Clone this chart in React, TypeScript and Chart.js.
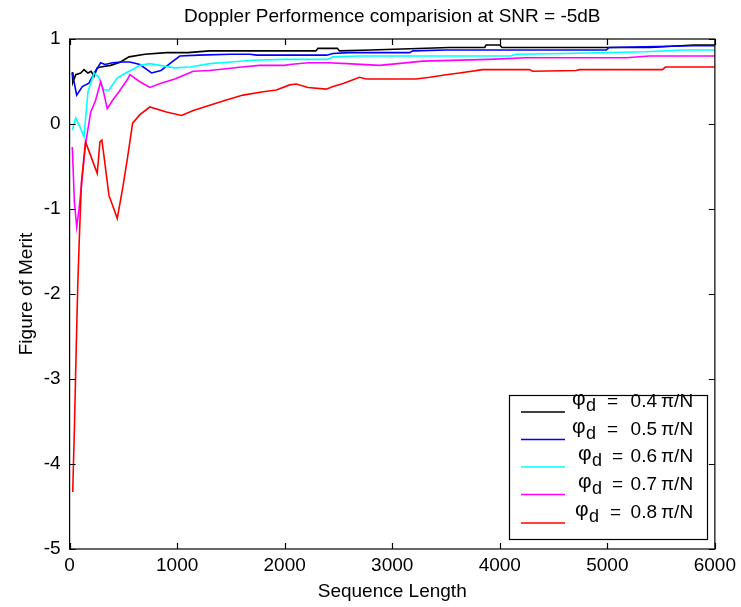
import React, { useEffect, useRef } from "react";
import { Chart, registerables } from "chart.js";

Chart.register(...registerables);

const FONT = '"Liberation Sans Narrow", "Arial Narrow", "Liberation Sans", Arial, sans-serif';

const titleText = "Doppler Performence comparision at SNR = -5dB";
const xLabel = "Sequence Length";
const yLabel = "Figure of Merit";

const xTicks = [0, 1000, 2000, 3000, 4000, 5000, 6000];
const yTicks = [-5, -4, -3, -2, -1, 0, 1];

const legendValues = ["0.4", "0.5", "0.6", "0.7", "0.8"];
const seriesColors = ["#000000", "#0000ff", "#00ffff", "#ff00ff", "#ff0000"];

const blackX = [25, 30, 57, 103, 134, 171, 200, 227, 257, 289, 382, 474, 552, 700, 900, 1100, 1300, 1675, 2290, 2309, 2490, 2509, 2800, 3532, 3860, 3873, 4000, 4020, 5400, 5800, 6000];
const blackY = [0.61, 0.49, 0.58, 0.60, 0.64, 0.60, 0.62, 0.56, 0.66, 0.67, 0.69, 0.73, 0.79, 0.82, 0.84, 0.84, 0.86, 0.86, 0.86, 0.89, 0.89, 0.86, 0.87, 0.90, 0.90, 0.93, 0.93, 0.90, 0.90, 0.93, 0.93];

const blueX = [25, 66, 118, 180, 230, 289, 329, 400, 484, 560, 654, 762, 850, 932, 1025, 1200, 1500, 1675, 1740, 2000, 2390, 2448, 2600, 3160, 3192, 3500, 4150, 4500, 4990, 5017, 5800, 6000];
const blueY = [0.60, 0.34, 0.44, 0.48, 0.60, 0.72, 0.70, 0.72, 0.73, 0.73, 0.70, 0.60, 0.63, 0.71, 0.80, 0.81, 0.82, 0.82, 0.81, 0.81, 0.81, 0.83, 0.84, 0.84, 0.86, 0.87, 0.87, 0.87, 0.87, 0.90, 0.92, 0.92];

const cyanX = [25, 57, 95, 134, 171, 227, 270, 319, 366, 443, 521, 598, 654, 746, 839, 978, 1118, 1303, 1500, 1700, 2000, 2232, 2400, 2448, 2700, 4100, 4151, 4600, 5358, 5700, 6000];
const cyanY = [-0.07, 0.07, -0.03, -0.15, 0.38, 0.60, 0.55, 0.40, 0.40, 0.54, 0.60, 0.65, 0.69, 0.71, 0.69, 0.66, 0.67, 0.71, 0.73, 0.75, 0.76, 0.76, 0.76, 0.79, 0.80, 0.80, 0.82, 0.83, 0.85, 0.87, 0.87];

const magentaX = [25, 45, 66, 87, 109, 134, 149, 196, 242, 289, 315, 350, 400, 459, 536, 561, 650, 746, 850, 979, 1149, 1300, 1455, 1600, 1768, 2000, 2046, 2216, 2400, 2580, 2882, 3050, 3284, 3900, 4240, 5175, 5389, 6000];
const magentaY = [-0.27, -0.93, -1.21, -1.01, -0.74, -0.42, -0.23, 0.14, 0.28, 0.50, 0.38, 0.18, 0.28, 0.38, 0.52, 0.58, 0.50, 0.43, 0.48, 0.53, 0.62, 0.63, 0.65, 0.67, 0.69, 0.69, 0.70, 0.72, 0.72, 0.71, 0.69, 0.71, 0.74, 0.76, 0.78, 0.78, 0.80, 0.80];

const redX = [29, 45, 60, 75, 90, 110, 128, 148, 257, 282, 300, 320, 366, 443, 490, 536, 586, 654, 746, 900, 1041, 1150, 1303, 1450, 1613, 1800, 1923, 2046, 2108, 2216, 2386, 2450, 2550, 2696, 2758, 3000, 3223, 3350, 3500, 3625, 3842, 4000, 4275, 4306, 4708, 4740, 5512, 5540, 6000];
const redY = [-4.33, -3.57, -2.72, -1.94, -1.36, -0.69, -0.46, -0.21, -0.58, -0.21, -0.19, -0.38, -0.84, -1.11, -0.78, -0.42, 0.01, 0.11, 0.20, 0.14, 0.10, 0.16, 0.22, 0.28, 0.34, 0.38, 0.40, 0.46, 0.47, 0.43, 0.41, 0.44, 0.48, 0.55, 0.53, 0.53, 0.53, 0.55, 0.58, 0.60, 0.64, 0.64, 0.64, 0.62, 0.63, 0.64, 0.64, 0.67, 0.67];

const seriesX = [blackX, blueX, cyanX, magentaX, redX];
const seriesY = [blackY, blueY, cyanY, magentaY, redY];

const decorPlugin = {
  id: "matlabDecor",
  afterDraw(chart: any) {
    const ctx = chart.ctx;
    const a = chart.chartArea;
    const xs = chart.scales.x;
    const ys = chart.scales.y;
    ctx.save();
    ctx.strokeStyle = "#000";
    ctx.lineWidth = 1.2;
    ctx.strokeRect(a.left, a.top, a.right - a.left, a.bottom - a.top);
    const tl = 6;
    ctx.beginPath();
    for (const v of xTicks) {
      const px = Math.round(xs.getPixelForValue(v)) + 0.5;
      ctx.moveTo(px, a.bottom);
      ctx.lineTo(px, a.bottom - tl);
      ctx.moveTo(px, a.top);
      ctx.lineTo(px, a.top + tl);
    }
    for (const v of yTicks) {
      const py = Math.round(ys.getPixelForValue(v)) + 0.5;
      ctx.moveTo(a.left, py);
      ctx.lineTo(a.left + tl, py);
      ctx.moveTo(a.right, py);
      ctx.lineTo(a.right - tl, py);
    }
    ctx.stroke();

    ctx.fillStyle = "#000";
    ctx.font = `19px ${FONT}`;
    ctx.textAlign = "center";
    ctx.textBaseline = "alphabetic";
    ctx.fillText(titleText, (a.left + a.right) / 2, 22);
    ctx.fillText(xLabel, (a.left + a.right) / 2, 597);
    ctx.save();
    ctx.translate(32, (a.top + a.bottom) / 2);
    ctx.rotate(-Math.PI / 2);
    ctx.fillText(yLabel, 0, 0);
    ctx.restore();

    // legend
    const bx = 509, by = 395, bw = 198, bh = 144;
    ctx.fillStyle = "#fff";
    ctx.fillRect(bx, by, bw, bh);
    ctx.strokeStyle = "#000";
    ctx.lineWidth = 1.2;
    ctx.strokeRect(bx + 0.5, by + 0.5, bw, bh);
    const baselines = [407, 434.5, 462, 489.5, 518];
    const phiX = [572, 572, 578, 578, 575];
    const eqX = [607, 607, 612, 612, 610];
    for (let i = 0; i < legendValues.length; i++) {
      const b = baselines[i];
      ctx.strokeStyle = seriesColors[i];
      ctx.lineWidth = 1.5;
      ctx.beginPath();
      ctx.moveTo(521, b + 5);
      ctx.lineTo(565, b + 5);
      ctx.stroke();
      ctx.fillStyle = "#000";
      ctx.textAlign = "left";
      ctx.font = `21px ${FONT}`;
      ctx.fillText("\u03C6", phiX[i], b - 2);
      ctx.font = `18px ${FONT}`;
      ctx.fillText("d", phiX[i] + 14, b + 4);
      ctx.font = `19px ${FONT}`;
      ctx.fillText("=", eqX[i], b);
      ctx.textAlign = "right";
      ctx.fillText(legendValues[i], 657, b);
      ctx.textAlign = "left";
      ctx.fillText("\u03C0/N", 661, b);
    }
    ctx.restore();
  },
};

export default function App() {
  const ref = useRef<HTMLCanvasElement | null>(null);
  useEffect(() => {
    if (!ref.current) return;
    const datasets = seriesX.map((xsArr, i) => ({
      label: `phi_d = ${legendValues[i]} pi/N`,
      data: xsArr.map((x, j) => ({ x, y: seriesY[i][j] })),
      borderColor: seriesColors[i],
      backgroundColor: seriesColors[i],
      borderWidth: 1.6,
      pointRadius: 0,
      tension: 0,
      fill: false,
      order: 5 - i,
    }));
    const chart = new Chart(ref.current, {
      type: "line",
      data: { datasets },
      plugins: [decorPlugin],
      options: {
        animation: false,
        responsive: true,
        maintainAspectRatio: false,
        layout: { padding: { top: 39, right: 25, left: 0, bottom: 0 } },
        plugins: { legend: { display: false }, tooltip: { enabled: false }, title: { display: false } },
        scales: {
          x: {
            type: "linear",
            min: 0,
            max: 6000,
            afterFit: (s: any) => { s.height = 58; },
            afterBuildTicks: (s: any) => { s.ticks = xTicks.map((v) => ({ value: v })); },
            ticks: {
              color: "#000", padding: 5, maxRotation: 0, autoSkip: false,
              font: { family: FONT, size: 19 },
              callback: (v: any) => String(v),
            },
            grid: { display: false, drawTicks: false },
            border: { display: false },
          },
          y: {
            type: "linear",
            min: -5,
            max: 1,
            afterFit: (s: any) => { s.width = 69.6; },
            afterBuildTicks: (s: any) => { s.ticks = yTicks.map((v) => ({ value: v })); },
            ticks: {
              color: "#000", padding: 9, autoSkip: false,
              font: { family: FONT, size: 19 },
              callback: (v: any) => String(v),
            },
            grid: { display: false, drawTicks: false },
            border: { display: false },
          },
        },
      },
    });
    return () => chart.destroy();
  }, []);
  return (
    <div style={{ position: "absolute", left: 0, top: 0, width: 741, height: 607, background: "#fff" }}>
      <canvas ref={ref} />
    </div>
  );
}
